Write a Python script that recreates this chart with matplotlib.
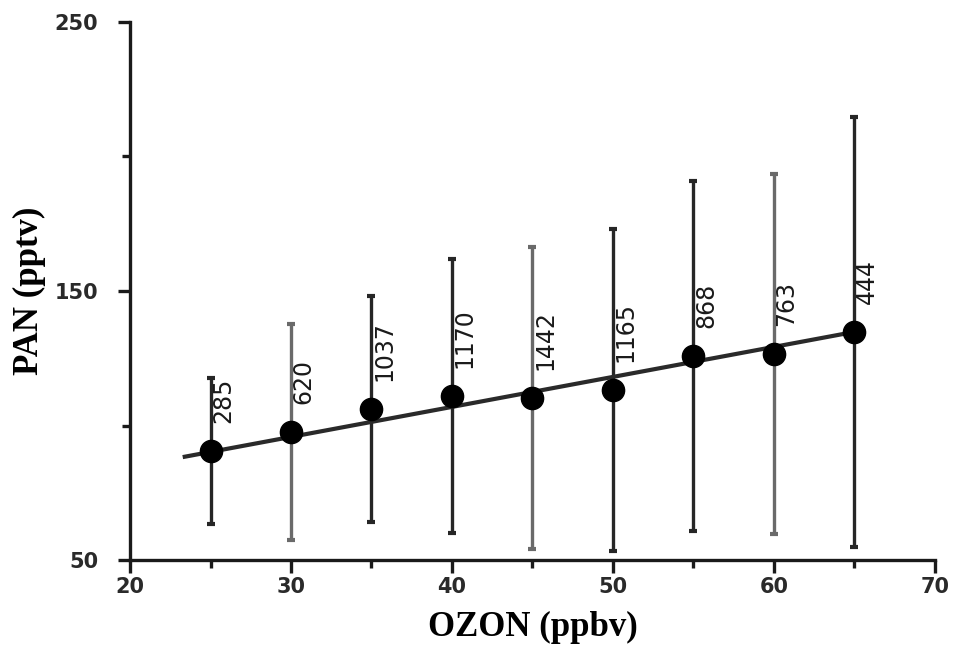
import matplotlib.pyplot as plt
from matplotlib.ticker import MultipleLocator, FixedLocator

# dados
ozon = [25, 30, 35, 40, 45, 50, 55, 60, 65]
pan = [90.5, 97.6, 106.1, 111.0, 110.2, 113.2, 125.8, 126.6, 134.8]
erro = [27, 40, 42, 51, 56, 60, 65, 67, 80]
n_amostras = ["285", "620", "1037", "1170", "1442", "1165", "868", "763", "444"]
cores = ["#262626", "#6a6a6a", "#262626", "#262626", "#6a6a6a",
         "#262626", "#262626", "#6a6a6a", "#262626"]

# reta ajustada (extremos)
reta_x = [23.4, 65.0]
reta_y = [88.4, 134.8]

fig = plt.figure(figsize=(9.54, 6.56), dpi=100)
ax = fig.add_axes([0.1363, 0.1463, 0.8437, 0.8202])

for x, y, e, c in zip(ozon, pan, erro, cores):
    ax.errorbar(x, y, yerr=e, fmt="none", ecolor=c, elinewidth=2.4,
                capsize=3, capthick=3, zorder=2)

ax.plot(reta_x, reta_y, color="#2a2a2a", lw=3, zorder=3)
ax.plot(ozon, pan, "o", color="black", markersize=16, zorder=4)

for x, y, t in zip(ozon, pan, n_amostras):
    ax.annotate(t, (x, y), xytext=(9, 20), textcoords="offset points",
                rotation=90, ha="center", va="bottom", fontsize=17,
                color="#1a1a1a", zorder=5)

ax.set_xlim(20, 70)
ax.set_ylim(50, 250)
ax.xaxis.set_major_locator(MultipleLocator(10))
ax.xaxis.set_minor_locator(MultipleLocator(5))
ax.yaxis.set_major_locator(FixedLocator([50, 150, 250]))
ax.yaxis.set_minor_locator(FixedLocator([100, 200]))

for s in ["top", "right"]:
    ax.spines[s].set_visible(False)
for s in ["left", "bottom"]:
    ax.spines[s].set_linewidth(2.4)
    ax.spines[s].set_color("#1a1a1a")

ax.tick_params(which="major", length=9, width=2.4, color="#1a1a1a")
ax.tick_params(which="minor", length=6, width=2.4, color="#1a1a1a")
ax.tick_params(axis="y", which="major", pad=14)
for lab in ax.get_xticklabels() + ax.get_yticklabels():
    lab.set_fontsize(15)
    lab.set_fontweight("bold")
    lab.set_color("#2a2a2a")

ax.set_xlabel("OZON (ppbv)", fontsize=25, fontweight="bold",
              family="Liberation Serif", labelpad=10)
ax.set_ylabel("PAN (pptv)", fontsize=25, fontweight="bold",
              family="Liberation Serif", labelpad=6)

fig.savefig("out.png", dpi=100)
